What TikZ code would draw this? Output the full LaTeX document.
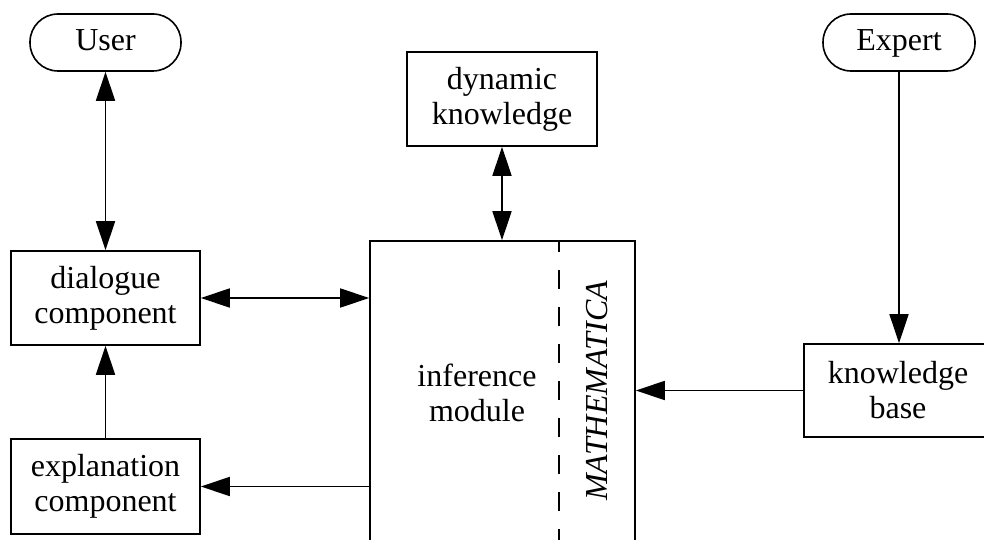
\documentclass[tikz,border=0pt]{standalone}
\usepackage{fontspec}
\setmainfont{Liberation Serif}
\usetikzlibrary{arrows.meta}
\begin{document}
\begin{tikzpicture}[x=1pt,y=-1pt,
  every node/.style={font=\fontsize{32}{35}\selectfont, align=center, inner sep=0pt},
  box/.style={draw, line width=1.6pt, minimum width=189pt, minimum height=94pt},
  term/.style={draw, line width=1.6pt, rounded corners=28pt, minimum width=151pt, minimum height=57pt, text height=22pt, text depth=6pt},
  conn/.style={line width=1.6pt, -{Triangle[length=29pt,width=19pt]}},
  bconn/.style={line width=1.6pt, {Triangle[length=29pt,width=19pt]}-{Triangle[length=29pt,width=19pt]}},
  dividerline/.style={line width=1.6pt, dash pattern=on 19pt off 18pt, dash phase=8pt}]
\useasboundingbox (0,0) rectangle (984,540);
\clip (0,0) rectangle (984,540);
\node[term] (user) at (105.5,42.5) {User};
\node[term, minimum width=152pt] (expert) at (899,42.5) {Expert};
\node[box] (dialogue) at (105.5,298) {dialogue\\component};
\node[box, minimum height=95pt] (explanation) at (105.5,486.5) {explanation\\component};
\node[box, minimum width=190pt] (dynamic) at (502,99) {dynamic\\knowledge};
\node[box, minimum width=188pt, minimum height=93pt] (kb) at (898,390.5) {knowledge\\base};
\node[draw, line width=1.6pt, minimum width=265pt, minimum height=359pt] (inference) at (502.5,420.5) {};
\node (inflabel) at (477,393) {inference\\module};
\node[rotate=90, font=\fontsize{32}{35}\selectfont\itshape] (math) at (597,391) {MATHEMATICA};
\coordinate (dtop) at (559,241);
\coordinate (dbot) at (559,545);
\draw[dividerline] (dtop) -- (dbot);
\draw[bconn] (user.south) -- (dialogue.north);
\draw[bconn] (dynamic.south) -- (dynamic.south |- inference.north);
\draw[bconn] (dialogue.east) -- (dialogue.east -| inference.west);
\draw[conn] (explanation.north) -- (dialogue.south);
\draw[conn] (explanation.east -| inference.west) -- (explanation.east);
\draw[conn] (expert.south) -- (kb.north -| expert.south);
\draw[conn] (kb.west) -- (kb.west -| inference.east);
\end{tikzpicture}
\end{document}
